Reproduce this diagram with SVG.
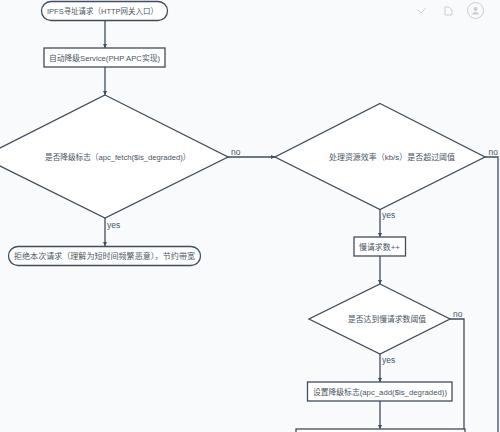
<svg xmlns="http://www.w3.org/2000/svg" width="500" height="432" viewBox="0 0 500 432">
<defs>
<style>
.n{fill:#fff;stroke:#3f4d5c;stroke-width:1.3}
.c{fill:none;stroke:#3f4d5c;stroke-width:1.3}
.t{font-family:"Liberation Sans","Noto Sans CJK SC",sans-serif;font-size:8px;fill:#4a5663}
.l{font-family:"Liberation Sans",sans-serif;font-size:8.500px;fill:#4a5663}
.i{fill:none;stroke:#c9ced3;stroke-width:1}
</style>
<marker id="a" markerUnits="userSpaceOnUse" markerWidth="5" markerHeight="5" refX="4" refY="2" orient="auto"><path d="M0 0L4 2L0 4Z" fill="#3f4d5c"/></marker>
</defs>
<rect width="500" height="432" fill="#f8fafc"/>
<g id="toolbar">
<path class="i" d="M418 10L421 13L426 8" stroke-width="1.500"/>
<path class="i" d="M445 7H449L452 10V15H445Z"/>
<circle class="i" cx="475.500" cy="10.500" r="8"/>
<circle cx="475.500" cy="9" r="2" fill="#c9ced3"/>
<path d="M471.500 14.500Q475.500 9 479.500 14.500Z" fill="#c9ced3"/>
</g>
<g id="connectors">
<path class="c" marker-end="url(#a)" d="M105 21V48"/>
<path class="c" marker-end="url(#a)" d="M105 67V95"/>
<path class="c" marker-end="url(#a)" d="M105 218V246"/>
<path class="c" marker-end="url(#a)" d="M228 157H275"/>
<path class="c" marker-end="url(#a)" d="M380 209V237"/>
<path class="c" marker-end="url(#a)" d="M380 256V284"/>
<path class="c" marker-end="url(#a)" d="M380 354V382"/>
<path class="c" marker-end="url(#a)" d="M380 401V429"/>
<path class="c" d="M450 319H464V432"/>
<path class="c" d="M485 157H498V432"/>
</g>
<g id="n1"><rect class="n" x="41.500" y="1.500" width="126" height="19" rx="9.500"/><text class="t" x="47" y="14" textLength="111" lengthAdjust="spacingAndGlyphs">IPFS寻址请求（HTTP网关入口）</text></g>
<g id="n2"><rect class="n" x="44" y="48" width="121" height="19"/><text class="t" x="49" y="61" textLength="111" lengthAdjust="spacingAndGlyphs">自动降级Service(PHP APC实现)</text></g>
<g id="n3"><path class="n" d="M105 95L228 157L105 218L-18 157Z"/><text class="t" x="45" y="160" textLength="145.500" lengthAdjust="spacingAndGlyphs">是否降级标志（apc_fetch($is_degraded)）</text></g>
<g id="n4"><rect class="n" x="8.500" y="246.500" width="192" height="19" rx="9.500"/><text class="t" x="14" y="259" textLength="181" lengthAdjust="spacingAndGlyphs">拒绝本次请求（理解为短时间频繁恶意），节约带宽</text></g>
<g id="n5"><path class="n" d="M380 103.500L485 157L380 209.500L275 157Z"/><text class="t" x="329" y="160" textLength="126" lengthAdjust="spacingAndGlyphs">处理资源效率（kb/s）是否超过阈值</text></g>
<g id="n6"><rect class="n" x="354" y="237" width="51.500" height="19"/><text class="t" x="359" y="250" textLength="41" lengthAdjust="spacingAndGlyphs">慢请求数++</text></g>
<g id="n7"><path class="n" d="M380 284L450 319L380 354L309 319Z"/><text class="t" x="348" y="322" textLength="78" lengthAdjust="spacingAndGlyphs">是否达到慢请求数阈值</text></g>
<g id="n8"><rect class="n" x="307.500" y="382" width="144.500" height="19"/><text class="t" x="313" y="395" textLength="134" lengthAdjust="spacingAndGlyphs">设置降级标志(apc_add($is_degraded))</text></g>
<g id="n9"><rect class="n" x="296" y="429" width="169" height="20"/></g>
<g id="labels">
<text class="l" x="231" y="155">no</text>
<text class="l" x="107" y="228">yes</text>
<text class="l" x="382" y="218">yes</text>
<text class="l" x="488.500" y="155">no</text>
<text class="l" x="453" y="317">no</text>
<text class="l" x="382" y="363">yes</text>
</g>
</svg>
